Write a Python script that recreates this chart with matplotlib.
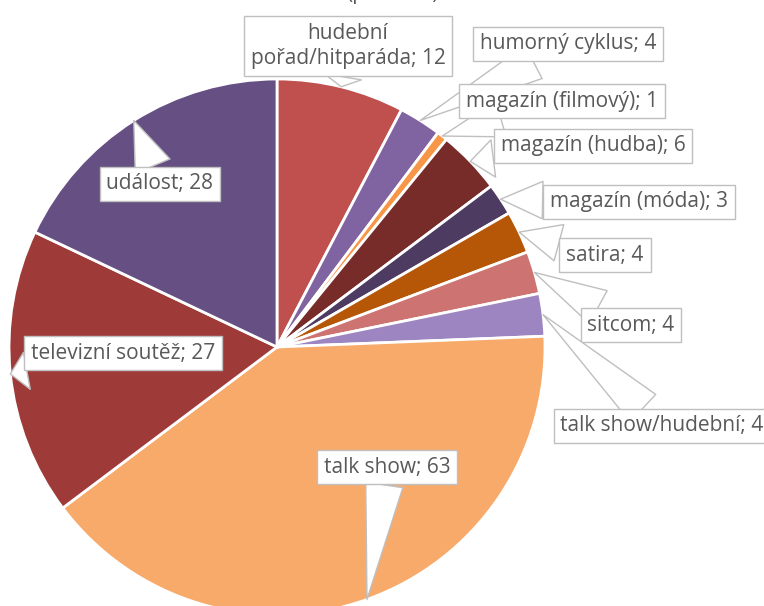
import numpy as np
import matplotlib.pyplot as plt

categories = ['hudební\npořad/hitparáda', 'humorný cyklus', 'magazín (filmový)',
              'magazín (hudba)', 'magazín (móda)', 'satira', 'sitcom',
              'talk show/hudební', 'talk show', 'televizní soutěž', 'událost']
counts = [12, 4, 1, 6, 3, 4, 4, 4, 63, 27, 28]
colors = ['#C0504D', '#8064A2', '#F79646', '#772C2A', '#4E3B62', '#B65708',
          '#CD7371', '#9C85C0', '#F8AA6A', '#9E3B39', '#664F83']

# label box centres, pixels from the top-left corner
label_pos = [(348, 46), (568, 44), (562, 101), (593, 146), (639, 202), (605, 255),
             (631, 325), (662, 426), (387, 467), (123, 353), (160, 184)]

W, H = 764, 606
fig = plt.figure(figsize=(W / 100, H / 100), dpi=100)
ax = fig.add_axes([0, 0, 1, 1])

cx, cy, R = 277, H - 347, 268
wedges, _ = ax.pie(counts, colors=colors, startangle=90, counterclock=False,
                   center=(cx, cy), radius=R, frame=True,
                   wedgeprops=dict(edgecolor='white', linewidth=2))
ax.set_xlim(0, W)
ax.set_ylim(0, H)
ax.set_aspect('equal')
ax.axis('off')

txt = dict(fontsize=15, color='#595959', family='Open Sans')
for w, name, n, (lx, ly) in zip(wedges, categories, counts, label_pos):
    mid = np.deg2rad((w.theta1 + w.theta2) / 2)
    tip = (cx + R * np.cos(mid), cy + R * np.sin(mid))
    ax.annotate(f'{name}; {n}', xy=tip, xytext=(lx, H - ly),
                ha='center', va='center', linespacing=1.3, **txt,
                bbox=dict(boxstyle='square,pad=0.33', fc='white', ec='#BFBFBF', lw=1),
                arrowprops=dict(arrowstyle='wedge,tail_width=1.8,shrink_factor=0.5',
                                fc='white', ec='#BFBFBF', lw=1,
                                shrinkA=0, shrinkB=0))

# label of the top entry, cut off by the image edge
ax.text(392, H + 1, '(prázdné)', ha='center', va='baseline', **txt)

fig.savefig('out.png', dpi=100)
